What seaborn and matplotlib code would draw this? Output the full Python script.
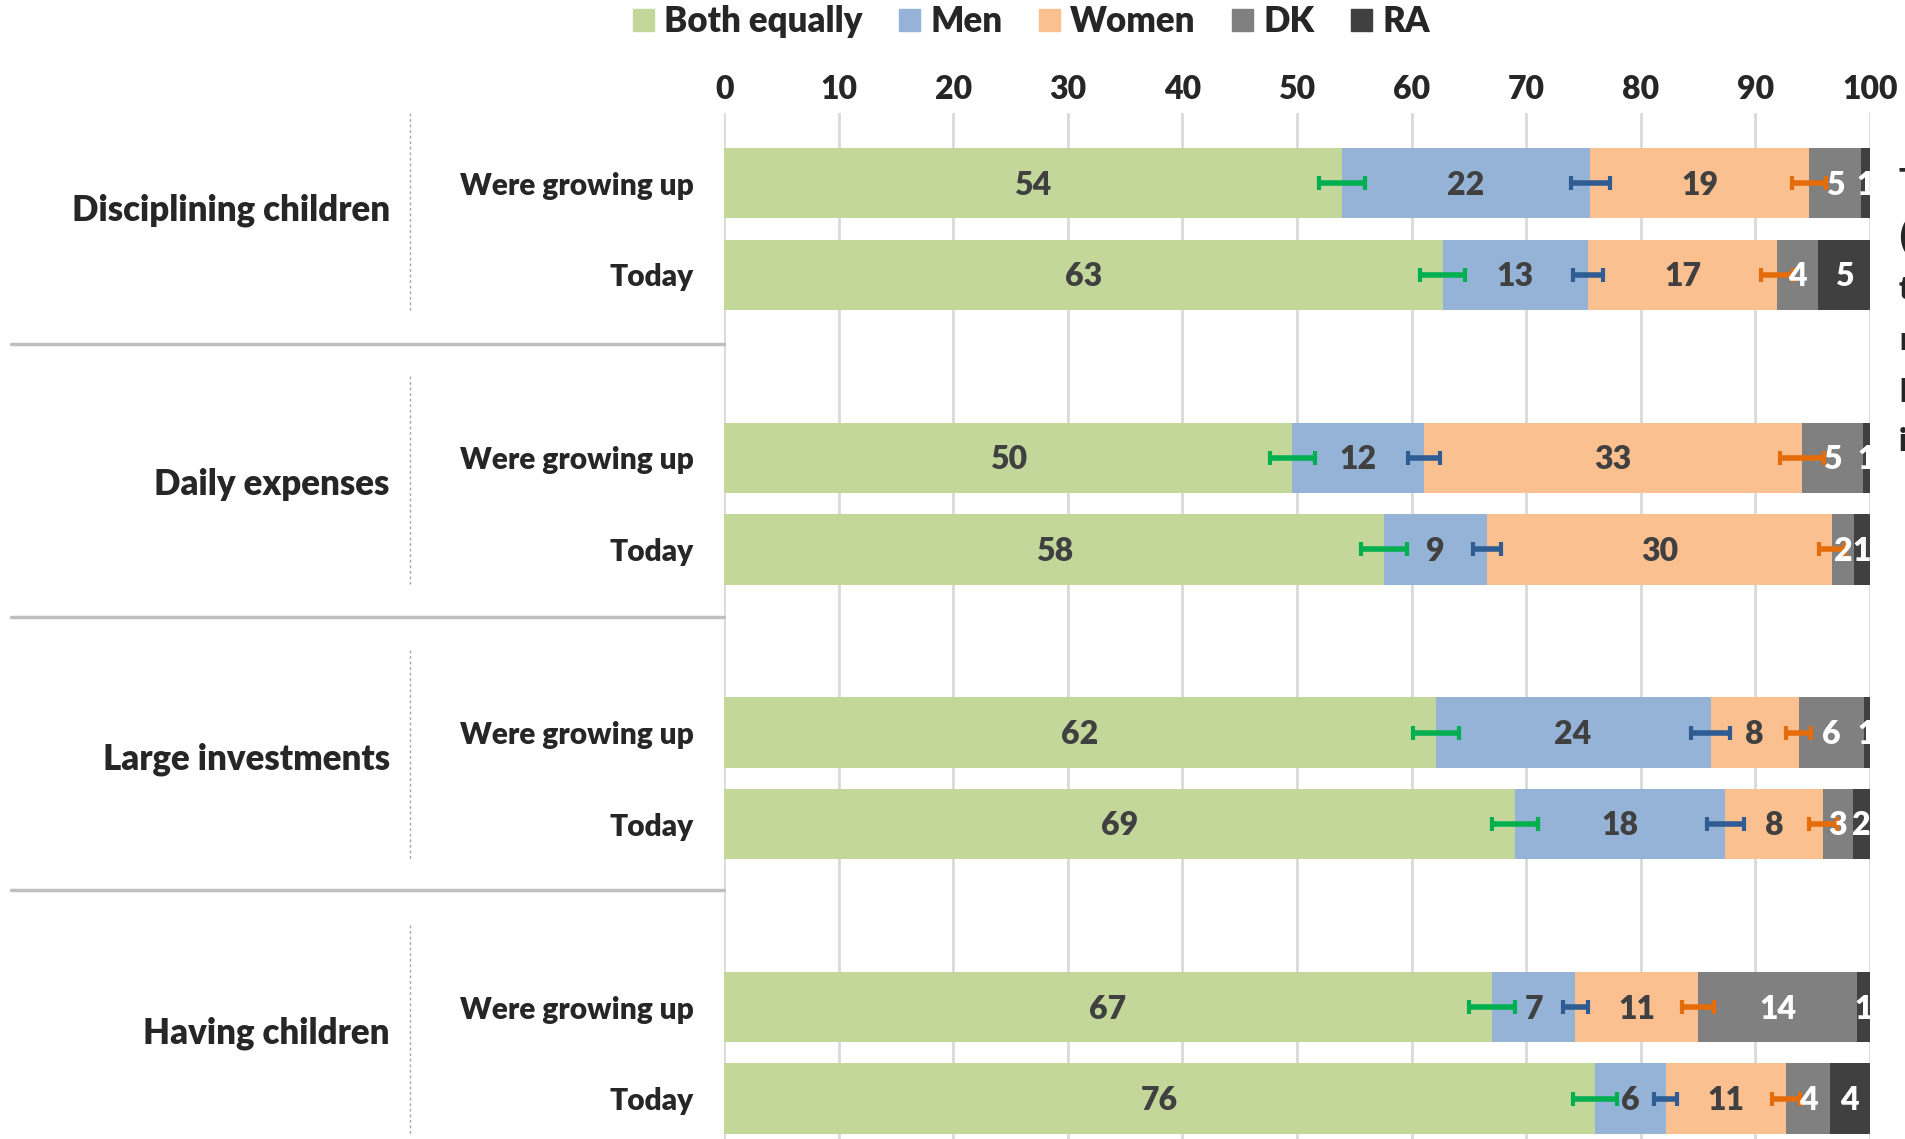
import numpy as np
import pandas as pd
import matplotlib
matplotlib.use('Agg')
import matplotlib.pyplot as plt
import matplotlib.transforms as mtransforms
from matplotlib.patches import Patch
import seaborn as sns

# Who decides: share of answers per activity, when growing up vs today
activities = ['Disciplining children', 'Daily expenses', 'Large investments', 'Having children']
periods = ['Were growing up', 'Today']
answers = ['Both equally', 'Men', 'Women', 'DK', 'RA']

# bar widths (order: DC grow, DC today, DE grow, DE today, ...)
both = [53.9, 62.7, 49.6, 57.6, 62.1, 69.0, 67.0, 76.0]
men = [21.7, 12.7, 11.5, 9.0, 24.0, 18.4, 7.3, 6.2]
women = [19.1, 16.5, 33.0, 30.1, 7.7, 8.5, 10.7, 10.5]
dk = [4.5, 3.6, 5.3, 1.9, 5.7, 2.6, 13.9, 3.8]
ra = [0.8, 4.5, 0.6, 1.4, 0.5, 1.5, 1.1, 3.5]

# printed labels
lab_both = [54, 63, 50, 58, 62, 69, 67, 76]
lab_men = [22, 13, 12, 9, 24, 18, 7, 6]
lab_women = [19, 17, 33, 30, 8, 8, 11, 11]
lab_dk = [5, 4, 5, 2, 6, 3, 14, 4]
lab_ra = [1, 5, 1, 1, 1, 2, 1, 4]

# half widths of the error bars
err_both = [2.0, 2.0, 2.0, 2.0, 2.0, 2.0, 2.0, 1.9]
err_men = [1.7, 1.3, 1.4, 1.2, 1.7, 1.6, 1.1, 1.0]
err_women = [1.5, 1.4, 1.9, 1.1, 1.1, 1.2, 1.4, 1.2]

colors = {'Both equally': '#C4D79B', 'Men': '#95B3D7', 'Women': '#FAC090',
          'DK': '#808080', 'RA': '#404040'}
err_colors = {'Both equally': '#00B050', 'Men': '#2F5D93', 'Women': '#E46C0A'}
text_colors = {'Both equally': '#404040', 'Men': '#404040', 'Women': '#404040',
               'DK': 'white', 'RA': 'white'}

sns.set_style('white')
plt.rcParams['font.family'] = ['Lato', 'DejaVu Sans']
plt.rcParams['font.weight'] = 'heavy'
W = 'heavy'

# slot positions, one empty slot between activities
pos = [0, 1, 3, 4, 6, 7, 9, 10]
df = pd.DataFrame({'pos': pos, 'Both equally': both, 'Men': men, 'Women': women,
                   'DK': dk, 'RA': ra})
shares = df[answers]
cum = shares.cumsum(axis=1)
labels = {'Both equally': lab_both, 'Men': lab_men, 'Women': lab_women,
          'DK': lab_dk, 'RA': lab_ra}
errs = {'Both equally': err_both, 'Men': err_men, 'Women': err_women}

fig = plt.figure(figsize=(19.06, 11.39), dpi=100)
ax = fig.add_axes([0.380, 0.0, 0.601, 0.901])

# stacked bars: draw cumulative totals from the widest down
for a in answers[::-1]:
    plot_df = pd.DataFrame({'pos': df['pos'], 'val': cum[a]})
    sns.barplot(data=plot_df, x='val', y='pos', orient='h', native_scale=True,
                color=colors[a], saturation=1, width=0.77, errorbar=None,
                linewidth=0, ax=ax)

# error bars at the end of the first three segments
for a in ['Both equally', 'Men', 'Women']:
    ax.errorbar(cum[a], pos, xerr=errs[a], fmt='none', ecolor=err_colors[a],
                elinewidth=4, capsize=5, capthick=3, zorder=4)

# segment labels
for a in answers:
    centers = cum[a] - shares[a] / 2
    for x, y, lab in zip(centers, pos, labels[a]):
        ax.text(x, y + 0.02, str(lab), ha='center', va='center', fontsize=23,
                fontweight=W, color=text_colors[a], zorder=5)

ax.set_xlim(0, 100)
ax.set_ylim(10.44, -0.77)
ax.set_xlabel('')
ax.set_ylabel('')
ax.xaxis.tick_top()
ax.set_xticks(np.arange(0, 101, 10))
ax.tick_params(axis='x', length=0, pad=6, labelsize=23)
ax.set_yticks(pos)
ax.set_yticklabels(periods * len(activities))
ax.tick_params(axis='y', length=0, pad=22, labelsize=21.5)
ax.set_axisbelow(True)
ax.grid(axis='x', color='#D9D9D9', lw=2)
ax.grid(axis='y', visible=False)
for s in ax.spines.values():
    s.set_visible(False)

trans = mtransforms.blended_transform_factory(ax.transAxes, ax.transData)
for i, name in enumerate(activities):
    g = pos[2 * i]
    ax.text(-0.292, g + 0.29, name, transform=trans, ha='right', va='center',
            fontsize=25, fontweight=W)
    ax.plot([-0.274, -0.274], [max(g - 0.9, -0.77), g + 1.38], transform=trans,
            color='#A6A6A6', lw=1, ls=(0, (2, 2)), clip_on=False)
for y in [1.76, 4.74, 7.72]:
    ax.plot([-0.623, 0], [y, y], transform=trans, color='#BFBFBF', lw=2.5,
            clip_on=False)

# legend
handles = [Patch(color=colors[a]) for a in answers]
fig.legend(handles, answers, loc='center', bbox_to_anchor=(0.541, 0.981), ncol=5,
           frameon=False, handlelength=0.6, handleheight=0.6, handletextpad=0.3,
           columnspacing=1.05, prop={'weight': W, 'size': 25})

# text cut off at the right edge of the original picture
for ch, yy in zip(['T', '(', 't', 'r', 'l', 'i'], [182, 237, 289, 340, 393, 441]):
    fig.text(1899 / 1906, 1 - yy / 1139, ch, ha='left', va='center', fontsize=23,
             fontweight=W)

plt.savefig('out.png', dpi=100)
plt.close()
